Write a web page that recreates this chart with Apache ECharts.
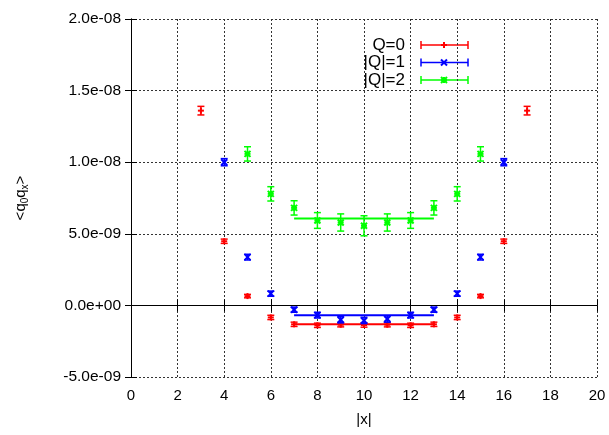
<!DOCTYPE html>
<html><head><meta charset="utf-8">
<script src="https://cdn.jsdelivr.net/npm/echarts@6/dist/echarts.min.js"></script>
<style>html,body{margin:0;padding:0;background:#fff}#c{width:609px;height:435px}</style>
</head><body><div id="c"></div>
<script>
// Q=0
const xQ0 = [3, 4, 5, 6, 7, 8, 9, 10, 11, 12, 13, 14, 15, 16, 17];
const yQ0 = [1.36e-8, 4.48e-9, 0.65e-9, -0.84e-9, -1.32e-9, -1.39e-9, -1.35e-9, -1.37e-9, -1.35e-9, -1.39e-9, -1.32e-9, -0.84e-9, 0.65e-9, 4.48e-9, 1.36e-8];
const eQ0 = [0.3e-9, 0.15e-9, 0.12e-9, 0.15e-9, 0.15e-9, 0.15e-9, 0.15e-9, 0.15e-9, 0.15e-9, 0.15e-9, 0.15e-9, 0.15e-9, 0.12e-9, 0.15e-9, 0.3e-9];
// |Q|=1
const xQ1 = [4, 5, 6, 7, 8, 9, 10, 11, 12, 13, 14, 15, 16];
const yQ1 = [1.0e-8, 3.37e-9, 0.82e-9, -0.3e-9, -0.68e-9, -1.0e-9, -1.05e-9, -0.95e-9, -0.68e-9, -0.3e-9, 0.82e-9, 3.37e-9, 1.0e-8];
const eQ1 = [0.25e-9, 0.2e-9, 0.18e-9, 0.18e-9, 0.2e-9, 0.22e-9, 0.22e-9, 0.22e-9, 0.2e-9, 0.18e-9, 0.18e-9, 0.2e-9, 0.25e-9];
// |Q|=2
const xQ2 = [5, 6, 7, 8, 9, 10, 11, 12, 13, 14, 15];
const yQ2 = [10.58e-9, 7.79e-9, 6.81e-9, 5.93e-9, 5.79e-9, 5.56e-9, 5.79e-9, 5.93e-9, 6.81e-9, 7.79e-9, 10.58e-9];
const eQ2 = [0.5e-9, 0.5e-9, 0.5e-9, 0.55e-9, 0.6e-9, 0.7e-9, 0.6e-9, 0.55e-9, 0.5e-9, 0.5e-9, 0.5e-9];
// plateau fits
const fitX = [7, 13];
const fitQ0 = -1.32e-9, fitQ1 = -0.68e-9, fitQ2 = 6.07e-9;
const xTicks = [0, 2, 4, 6, 8, 10, 12, 14, 16, 18, 20];
const yTicks = [-5e-9, 0, 5e-9, 1e-8, 1.5e-8, 2e-8];

const RED = '#ff0000', BLUE = '#0000ff', GREEN = '#00ff00';
const FONT = 'Liberation Sans';

function fmt(v) {
  const s = (Math.round(v * 1e11) / 1e11).toExponential(1);
  const parts = s.split('e');
  const sign = parts[1][0] === '-' ? '-' : '+';
  let d = parts[1].replace(/[+-]/, '');
  if (d.length < 2) d = '0' + d;
  return parts[0] + 'e' + sign + d;
}

function markerShapes(kind, cx, cy, color) {
  const r = 3, st = {stroke: color, lineWidth: 2};
  const out = [];
  if (kind === 'plus' || kind === 'star') {
    out.push({type: 'line', shape: {x1: cx - r, y1: cy, x2: cx + r, y2: cy}, style: st});
    out.push({type: 'line', shape: {x1: cx, y1: cy - r, x2: cx, y2: cy + r}, style: st});
  }
  if (kind === 'cross' || kind === 'star') {
    out.push({type: 'line', shape: {x1: cx - r, y1: cy - r, x2: cx + r, y2: cy + r}, style: st});
    out.push({type: 'line', shape: {x1: cx - r, y1: cy + r, x2: cx + r, y2: cy - r}, style: st});
  }
  return out;
}

function errSeries(name, xs, ys, es, color, kind) {
  return {
    name: name, type: 'custom', z: 5,
    data: xs.map((x, i) => [x, ys[i], es[i]]),
    encode: {x: 0, y: 1},
    renderItem: function (params, api) {
      const x = api.value(0), y = api.value(1), e = api.value(2);
      const p = api.coord([x, y]), lo = api.coord([x, y - e]), hi = api.coord([x, y + e]);
      const cw = 3.5, st = {stroke: color, lineWidth: 1.5};
      const ch = [
        {type: 'line', shape: {x1: p[0], y1: lo[1], x2: p[0], y2: hi[1]}, style: st},
        {type: 'line', shape: {x1: p[0] - cw, y1: lo[1], x2: p[0] + cw, y2: lo[1]}, style: st},
        {type: 'line', shape: {x1: p[0] - cw, y1: hi[1], x2: p[0] + cw, y2: hi[1]}, style: st}
      ].concat(markerShapes(kind, p[0], p[1], color));
      return {type: 'group', children: ch};
    }
  };
}

function fitSeries(val, color) {
  return {
    type: 'line', symbol: 'none', z: 4,
    data: fitX.map(x => [x, val]),
    lineStyle: {color: color, width: 2}
  };
}

function legendRow(label, y, color, kind) {
  const x1 = 421, x2 = 468, xm = 444, cw = 4, st = {stroke: color, lineWidth: 1.5};
  return [
    {type: 'text', x: 405, y: y, style: {text: label, font: '17px ' + FONT, fill: '#000', textAlign: 'right', textVerticalAlign: 'middle'}},
    {type: 'line', shape: {x1: x1, y1: y, x2: x2, y2: y}, style: st},
    {type: 'line', shape: {x1: x1, y1: y - cw, x2: x1, y2: y + cw}, style: st},
    {type: 'line', shape: {x1: x2, y1: y - cw, x2: x2, y2: y + cw}, style: st}
  ].concat(markerShapes(kind, xm, y, color));
}

const chart = echarts.init(document.getElementById('c'), null, {renderer: 'canvas'});
const axisLine = {show: true, lineStyle: {color: '#000', width: 1}};
chart.setOption({
  animation: false,
  backgroundColor: '#fff',
  grid: {left: 131, right: 12, top: 19, bottom: 58},
  xAxis: [{
    type: 'value', min: xTicks[0], max: xTicks[xTicks.length - 1], interval: 2,
    name: '|x|', nameLocation: 'middle', nameGap: 35,
    nameTextStyle: {fontFamily: FONT, fontSize: 15, color: '#000'},
    axisLine: axisLine, axisTick: {show: true, inside: true, length: 6, lineStyle: {color: '#000'}},
    axisLabel: {fontFamily: FONT, fontSize: 15, color: '#000', margin: 11},
    splitLine: {show: true, lineStyle: {type: [2, 2], color: '#333', width: 1}}
  }, {
    type: 'value', position: 'top', min: 0, max: 20, interval: 2,
    axisLine: axisLine, axisTick: {show: true, inside: true, length: 6, lineStyle: {color: '#000'}},
    axisLabel: {show: false}, splitLine: {show: false}
  }],
  yAxis: [{
    type: 'value', min: yTicks[0], max: yTicks[yTicks.length - 1], interval: 5e-9,
    name: '<q{s|0}q{s|x}>', nameLocation: 'middle', nameGap: 101, nameRotate: 90,
    nameTextStyle: {fontFamily: FONT, fontSize: 15, color: '#000', rich: {s: {fontSize: 10, fontFamily: FONT, verticalAlign: 'bottom', padding: [8, 0, 0, 0]}}},
    axisLine: axisLine, axisTick: {show: true, inside: true, length: 6, lineStyle: {color: '#000'}},
    axisLabel: {fontFamily: FONT, fontSize: 15.5, color: '#000', margin: 10, formatter: fmt},
    splitLine: {show: true, lineStyle: {type: [2, 2], color: '#333', width: 1}}
  }, {
    type: 'value', position: 'right', min: -5e-9, max: 2e-8, interval: 5e-9,
    axisLine: axisLine, axisTick: {show: true, inside: true, length: 6, lineStyle: {color: '#000'}},
    axisLabel: {show: false}, splitLine: {show: false}
  }],
  graphic: [].concat(
    legendRow('Q=0', 45, RED, 'plus'),
    legendRow('|Q|=1', 62.5, BLUE, 'cross'),
    legendRow('|Q|=2', 80, GREEN, 'star')
  ),
  series: [
    fitSeries(fitQ0, RED),
    fitSeries(fitQ1, BLUE),
    fitSeries(fitQ2, GREEN),
    errSeries('Q=0', xQ0, yQ0, eQ0, RED, 'plus'),
    errSeries('|Q|=1', xQ1, yQ1, eQ1, BLUE, 'cross'),
    errSeries('|Q|=2', xQ2, yQ2, eQ2, GREEN, 'star')
  ]
});
</script>
</body></html>
